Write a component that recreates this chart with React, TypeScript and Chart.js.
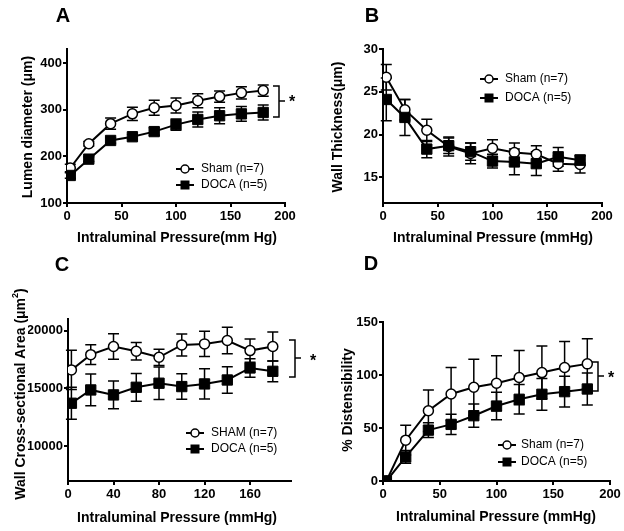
import React, { useEffect, useRef } from "react";
import { Chart, registerables } from "chart.js";

Chart.register(...registerables);

const pressure = [3, 20, 40, 60, 80, 100, 120, 140, 160, 180];

// Panel A – lumen diameter
const shamDiam = [175, 227, 270, 291, 304, 309, 319, 328, 336, 341];
const shamDiamErr = [8, 5, 12, 14, 16, 16, 15, 12, 13, 12];
const docaDiam = [159, 194, 234, 242, 253, 268, 279, 287, 291, 294];
const docaDiamErr = [6, 5, 6, 5, 8, 12, 16, 17, 16, 16];

// Panel B – wall thickness
const shamWall = [26.7, 22.9, 20.5, 18.6, 17.8, 18.4, 17.9, 17.7, 16.6, 16.5];
const shamWallErr = [1.5, 1.2, 1.3, 1.1, 1.2, 1.0, 1.1, 1.0, 0.9, 1.0];
const docaWall = [24.1, 22.0, 18.3, 18.7, 18.0, 16.9, 16.8, 16.6, 17.4, 17.0];
const docaWallErr = [2.5, 2.1, 1.0, 0.9, 1.0, 0.8, 1.5, 1.4, 1.1, 0.6];

// Panel C – wall cross-sectional area
const shamCSA = [16600, 17920, 18620, 18210, 17690, 18760, 18850, 19140, 18270, 18620];
const shamCSAErr = [1700, 850, 1100, 750, 700, 950, 1100, 1150, 1000, 1250];
const docaCSA = [13720, 14870, 14440, 15100, 15450, 15160, 15390, 15730, 16770, 16480];
const docaCSAErr = [1380, 1370, 1200, 1200, 1400, 1100, 1300, 1150, 800, 900];

// Panel D – distensibility
const shamDist = [0, 38.5, 66.3, 82.1, 88.4, 92.2, 97.6, 102.3, 107.1, 110.5];
const shamDistErr = [0, 14, 19.6, 25, 26.5, 26, 25.6, 25, 24.6, 23.7];
const docaDist = [0, 22.7, 48, 53.4, 61.6, 70.7, 77.1, 81.8, 84.3, 86.8];
const docaDistErr = [0, 6, 7, 9.6, 11, 13, 14, 15, 14.6, 15];

// Tick labels
const xTicks200 = [0, 50, 100, 150, 200];
const xTicksC = [0, 40, 80, 120, 160];
const yTicksA = [100, 200, 300, 400];
const yTicksB = [15, 20, 25, 30];
const yTicksC = [10000, 15000, 20000];
const yTicksD = [0, 50, 100, 150];

const FONT = "'Liberation Sans', Arial, Helvetica, sans-serif";
const W = 624;
const H = 531;
const Y_W = 40;
const X_H = 22;

type Panel = {
  letter: string;
  letterPos: [number, number];
  area: { left: number; right: number; top: number; bottom: number };
  xMin: number; xMax: number; xTicks: number[];
  yMin: number; yMax: number; yTicks: number[];
  xTitle: string; xTitlePos: [number, number];
  yTitle: string; yTitlePos: [number, number]; yTitleSup?: string;
  sham: number[]; shamErr: number[]; doca: number[]; docaErr: number[];
  shamLabel: string; docaLabel: string;
  legend: { mx: number; tx: number; y1: number; y2: number };
  bracket?: { x: number; top: number; bottom: number; mid: number; star: [number, number] };
};

const panels: Panel[] = [
  {
    letter: "A", letterPos: [63, 16],
    area: { left: 67, right: 285, top: 49, bottom: 203 },
    xMin: 0, xMax: 200, xTicks: xTicks200,
    yMin: 100, yMax: 430, yTicks: yTicksA,
    xTitle: "Intraluminal Pressure(mm Hg)", xTitlePos: [177, 238],
    yTitle: "Lumen diameter (\u03bcm)", yTitlePos: [28, 127],
    sham: shamDiam, shamErr: shamDiamErr, doca: docaDiam, docaErr: docaDiamErr,
    shamLabel: "Sham (n=7)", docaLabel: "DOCA (n=5)",
    legend: { mx: 185, tx: 201, y1: 169, y2: 185 },
    bracket: { x: 279, top: 86, bottom: 117, mid: 101, star: [292, 100] },
  },
  {
    letter: "B", letterPos: [372, 16],
    area: { left: 383, right: 602, top: 49, bottom: 203 },
    xMin: 0, xMax: 200, xTicks: xTicks200,
    yMin: 12, yMax: 30, yTicks: yTicksB,
    xTitle: "Intraluminal Pressure (mmHg)", xTitlePos: [493, 238],
    yTitle: "Wall Thickness(\u03bcm)", yTitlePos: [338, 127],
    sham: shamWall, shamErr: shamWallErr, doca: docaWall, docaErr: docaWallErr,
    shamLabel: "Sham (n=7)", docaLabel: "DOCA (n=5)",
    legend: { mx: 489, tx: 505, y1: 79, y2: 98 },
  },
  {
    letter: "C", letterPos: [62, 265],
    area: { left: 68, right: 291, top: 319, bottom: 481 },
    xMin: 0, xMax: 196, xTicks: xTicksC,
    yMin: 7000, yMax: 21000, yTicks: yTicksC,
    xTitle: "Intraluminal Pressure (mmHg)", xTitlePos: [177, 518],
    yTitle: "Wall Cross-sectional Area (\u03bcm", yTitleSup: "2", yTitlePos: [21, 394],
    sham: shamCSA, shamErr: shamCSAErr, doca: docaCSA, docaErr: docaCSAErr,
    shamLabel: "SHAM (n=7)", docaLabel: "DOCA (n=5)",
    legend: { mx: 195, tx: 211, y1: 433, y2: 449 },
    bracket: { x: 295, top: 340, bottom: 377, mid: 358, star: [313, 359] },
  },
  {
    letter: "D", letterPos: [371, 264],
    area: { left: 383, right: 610, top: 322, bottom: 481 },
    xMin: 0, xMax: 200, xTicks: xTicks200,
    yMin: 0, yMax: 150, yTicks: yTicksD,
    xTitle: "Intraluminal Pressure (mmHg)", xTitlePos: [496, 517],
    yTitle: "% Distensibility", yTitlePos: [348, 400],
    sham: shamDist, shamErr: shamDistErr, doca: docaDist, docaErr: docaDistErr,
    shamLabel: "Sham (n=7)", docaLabel: "DOCA (n=5)",
    legend: { mx: 507, tx: 521, y1: 445, y2: 462 },
    bracket: { x: 598, top: 362, bottom: 391, mid: 376, star: [611, 376] },
  },
];

function makeConfig(p: Panel): any {
  const pts = (ys: number[]) => pressure.map((x, i) => ({ x, y: ys[i] }));
  const decor = {
    id: "decor" + p.letter,
    beforeDatasetsDraw(chart: any) {
      const ctx = chart.ctx;
      const xs = chart.scales.x;
      const ys = chart.scales.y;
      ctx.save();
      ctx.strokeStyle = "#000";
      ctx.lineWidth = 1.5;
      const drawErr = (vals: number[], errs: number[]) => {
        pressure.forEach((xv, i) => {
          if (!errs[i]) return;
          const px = xs.getPixelForValue(xv);
          const hi = ys.getPixelForValue(vals[i] + errs[i]);
          const lo = ys.getPixelForValue(vals[i] - errs[i]);
          ctx.beginPath();
          ctx.moveTo(px, hi);
          ctx.lineTo(px, lo);
          ctx.moveTo(px - 5.5, hi);
          ctx.lineTo(px + 5.5, hi);
          ctx.moveTo(px - 5.5, lo);
          ctx.lineTo(px + 5.5, lo);
          ctx.stroke();
        });
      };
      drawErr(p.sham, p.shamErr);
      drawErr(p.doca, p.docaErr);
      ctx.restore();
    },
    afterDraw(chart: any) {
      const ctx = chart.ctx;
      ctx.save();
      ctx.fillStyle = "#000";
      ctx.strokeStyle = "#000";
      // panel letter
      ctx.font = `bold 20px ${FONT}`;
      ctx.textAlign = "center";
      ctx.textBaseline = "middle";
      ctx.fillText(p.letter, p.letterPos[0], p.letterPos[1]);
      // x title
      ctx.font = `bold 14px ${FONT}`;
      ctx.fillText(p.xTitle, p.xTitlePos[0], p.xTitlePos[1]);
      // y title
      ctx.save();
      ctx.translate(p.yTitlePos[0], p.yTitlePos[1]);
      ctx.rotate(-Math.PI / 2);
      if (p.yTitleSup) {
        const main = p.yTitle;
        ctx.font = `bold 14px ${FONT}`;
        const wMain = ctx.measureText(main).width;
        ctx.font = `bold 9px ${FONT}`;
        const wSup = ctx.measureText(p.yTitleSup).width;
        ctx.font = `bold 14px ${FONT}`;
        const wClose = ctx.measureText(")").width;
        const total = wMain + wSup + wClose;
        const x0 = -total / 2;
        ctx.textAlign = "left";
        ctx.fillText(main, x0, 0);
        ctx.font = `bold 9px ${FONT}`;
        ctx.fillText(p.yTitleSup, x0 + wMain, -5);
        ctx.font = `bold 14px ${FONT}`;
        ctx.fillText(")", x0 + wMain + wSup, 0);
      } else {
        ctx.font = `bold 14px ${FONT}`;
        ctx.fillText(p.yTitle, 0, 0);
      }
      ctx.restore();
      // legend
      const L = p.legend;
      ctx.lineWidth = 2;
      ctx.beginPath();
      ctx.moveTo(L.mx - 9, L.y1);
      ctx.lineTo(L.mx + 9, L.y1);
      ctx.moveTo(L.mx - 9, L.y2);
      ctx.lineTo(L.mx + 9, L.y2);
      ctx.stroke();
      ctx.beginPath();
      ctx.arc(L.mx, L.y1, 4, 0, Math.PI * 2);
      ctx.fillStyle = "#fff";
      ctx.fill();
      ctx.lineWidth = 1.5;
      ctx.stroke();
      ctx.fillStyle = "#000";
      ctx.fillRect(L.mx - 4.5, L.y2 - 4.5, 9, 9);
      ctx.font = `12px ${FONT}`;
      ctx.textAlign = "left";
      ctx.fillText(p.shamLabel, L.tx, L.y1);
      ctx.fillText(p.docaLabel, L.tx, L.y2);
      // bracket
      if (p.bracket) {
        const b = p.bracket;
        ctx.lineWidth = 1.5;
        ctx.beginPath();
        ctx.moveTo(b.x - 6, b.top);
        ctx.lineTo(b.x, b.top);
        ctx.lineTo(b.x, b.bottom);
        ctx.lineTo(b.x - 6, b.bottom);
        ctx.moveTo(b.x, b.mid);
        ctx.lineTo(b.x + 6, b.mid);
        ctx.stroke();
        ctx.font = `bold 16px ${FONT}`;
        ctx.textAlign = "center";
        ctx.fillText("*", b.star[0], b.star[1] + 3);
      }
      ctx.restore();
    },
  };

  const axisCommon = {
    type: "linear",
    grid: {
      drawOnChartArea: false,
      drawTicks: true,
      tickLength: 4,
      color: "#000",
      lineWidth: 2,
    },
    border: { display: true, color: "#000", width: 2 },
  };

  const tickFont = { family: FONT, size: 13, weight: "bold" };

  return {
    type: "scatter",
    data: {
      datasets: [
        {
          label: p.docaLabel,
          data: pts(p.doca),
          showLine: true,
          borderColor: "#000",
          borderWidth: 2,
          pointStyle: "rect",
          pointRadius: 7.3,
          pointBackgroundColor: "#000",
          pointBorderColor: "#000",
          pointBorderWidth: 1,
          tension: 0,
        },
        {
          label: p.shamLabel,
          data: pts(p.sham),
          showLine: true,
          borderColor: "#000",
          borderWidth: 2,
          pointStyle: "circle",
          pointRadius: 5,
          pointBackgroundColor: "#fff",
          pointBorderColor: "#000",
          pointBorderWidth: 1.5,
          tension: 0,
        },
      ],
    },
    options: {
      responsive: false,
      animation: false,
      events: [],
      layout: {
        padding: {
          left: p.area.left - Y_W,
          right: W - p.area.right,
          top: p.area.top,
          bottom: H - p.area.bottom - X_H,
        },
      },
      plugins: { legend: { display: false }, tooltip: { enabled: false }, title: { display: false } },
      scales: {
        x: {
          ...axisCommon,
          min: p.xMin,
          max: p.xMax,
          afterBuildTicks: (s: any) => { s.ticks = p.xTicks.map((v) => ({ value: v })); },
          afterFit: (s: any) => { s.height = X_H; },
          ticks: {
            autoSkip: false,
            maxRotation: 0,
            padding: 2,
            color: "#000",
            font: tickFont,
            callback: (v: any) => String(v),
          },
        },
        y: {
          ...axisCommon,
          min: p.yMin,
          max: p.yMax,
          afterBuildTicks: (s: any) => { s.ticks = p.yTicks.map((v) => ({ value: v })); },
          afterFit: (s: any) => { s.width = Y_W; },
          ticks: {
            autoSkip: false,
            padding: 1,
            color: "#000",
            font: tickFont,
            callback: (v: any) => String(v),
          },
        },
      },
    },
    plugins: [decor],
  };
}

function PanelCanvas({ panel }: { panel: Panel }) {
  const ref = useRef<HTMLCanvasElement | null>(null);
  useEffect(() => {
    if (!ref.current) return;
    const chart = new Chart(ref.current, makeConfig(panel));
    return () => chart.destroy();
  }, [panel]);
  return (
    <canvas
      ref={ref}
      width={W}
      height={H}
      style={{ position: "absolute", left: 0, top: 0, width: W, height: H }}
    />
  );
}

export default function App() {
  return (
    <div style={{ position: "fixed", left: 0, top: 0, width: W, height: H, background: "#fff" }}>
      {panels.map((p) => (
        <PanelCanvas key={p.letter} panel={p} />
      ))}
    </div>
  );
}
